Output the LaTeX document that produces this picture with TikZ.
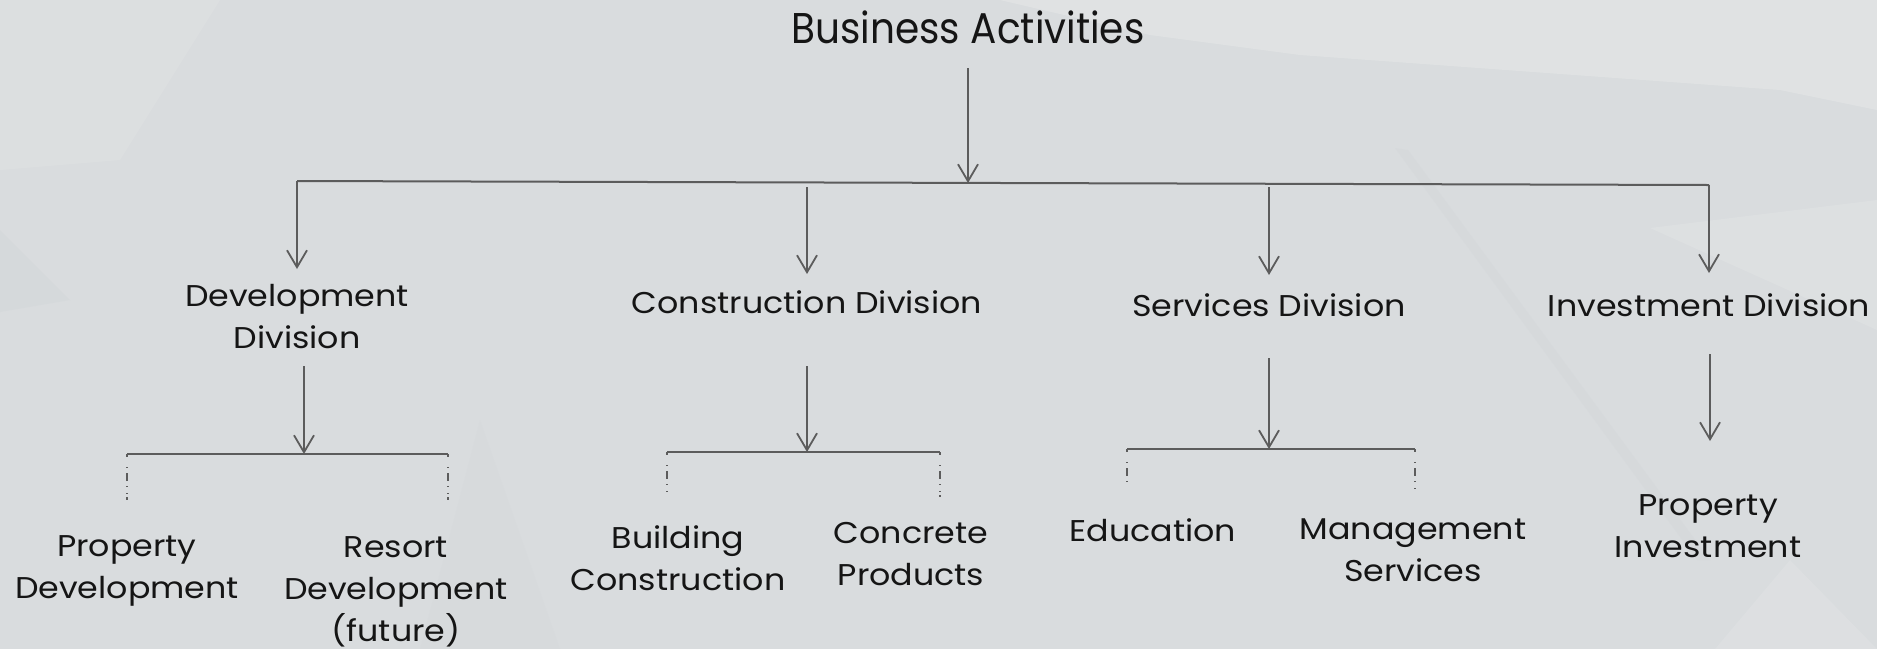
\documentclass[tikz,border=0pt]{standalone}
\usepackage{fontspec}
\setmainfont{Poppins}[FakeStretch=1.11]
\usetikzlibrary{arrows.meta}
\definecolor{bgbase}{HTML}{D9DCDE}
\definecolor{bglight}{HTML}{E3E5E6}
\definecolor{bgdark}{HTML}{D1D5D8}
\definecolor{linegray}{HTML}{5C5C5C}
\definecolor{textdark}{HTML}{151515}
\tikzset{
  lbl/.style={inner sep=0pt, align=center, text=textdark, font=\fontsize{15}{21}\selectfont},
  ttl/.style={inner sep=0pt, text=textdark, font=\fontsize{21.5}{26}\selectfont},
  conn/.style={draw=linegray, line width=1pt},
  arr/.style={conn, -{Straight Barb[length=8.5pt,width=10pt,line width=0.9pt]}},
  stub/.style={draw=linegray, line width=0.8pt, dash pattern=on 1.5pt off 5pt on 0.5pt off 2.5pt on 4pt off 2.5pt on 0.5pt off 3pt on 0.5pt}
}
\begin{document}
\begin{tikzpicture}[x=0.5pt,y=-0.5pt]
% background
\fill[bgbase] (0,0) rectangle (1877,649);
\useasboundingbox (0,0) rectangle (1877,649);
\fill[bglight,opacity=0.7] (1000,0) -- (1877,0) -- (1877,110) -- (1780,90) -- (1300,55) -- (1150,35) -- cycle;
\fill[bglight,opacity=0.45] (1650,228) -- (1877,200) -- (1877,330) -- cycle;
\fill[bgdark,opacity=0.35] (1395,148) -- (1408,150) -- (1710,560) -- (1697,560) -- cycle;
\fill[bglight,opacity=0.35] (0,0) -- (220,0) -- (120,160) -- (0,170) -- cycle;
\fill[bgdark,opacity=0.4] (0,230) -- (70,300) -- (0,312) -- cycle;
\fill[bglight,opacity=0.4] (1715,649) -- (1790,560) -- (1877,649) -- cycle;
\fill[bgdark,opacity=0.2] (480,420) -- (560,649) -- (420,649) -- cycle;

% title
\node[ttl] (T) at (968,27) {\resizebox{176.5pt}{\height}{Business Activities}};

% level 2
\node[lbl] (D) at (297,317) {Development\\Division};
\node[lbl] (C) at (807,302) {Construction Division};
\node[lbl] (S) at (1269,305) {Services Division};
\node[lbl] (I) at (1709,305) {Investment Division};

% level 3
\node[lbl] (PD) at (127,571) {Property\\Development};
\node[lbl] (RD) at (396,592) {Resort\\Development\\(future)};
\node[lbl] (BC) at (678,558) {Building\\Construction};
\node[lbl] (CP) at (911,554) {Concrete\\Products};
\node[lbl] (ED) at (1153,530) {Education};
\node[lbl] (MS) at (1413,550) {Management\\Services};
\node[lbl] (PI) at (1708,526) {Property\\Investment};

% coordinates for main bar
\coordinate (barL) at (297,181);
\coordinate (barM) at (968,183);
\coordinate (barR) at (1709,185);
\coordinate (tTop) at (968,68);

\draw[arr] (tTop) -- (barM);
\draw[conn] (barL) -- (barR);

% level 1 -> level 2
\coordinate (dTip) at (297,269);
\coordinate (cTop) at (807,187);
\coordinate (cTip) at (807,274);
\coordinate (sTop) at (1269,187);
\coordinate (sTip) at (1269,275);
\coordinate (iTip) at (1709,273);
\draw[arr] (barL) -- (dTip);
\draw[arr] (cTop) -- (cTip);
\draw[arr] (sTop) -- (sTip);
\draw[arr] (barR) -- (iTip);

% development bracket
\coordinate (dA) at (304,366);
\coordinate (dB) at (304,454);
\coordinate (dL) at (127,454);
\coordinate (dR) at (448,454);
\coordinate (dLe) at (127,500);
\coordinate (dRe) at (448,500);
\draw[arr] (dA) -- (dB);
\draw[conn] (dL) -- (dR);
\draw[stub] (dL) -- (dLe);
\draw[stub] (dR) -- (dRe);

% construction bracket
\coordinate (cA) at (807,366);
\coordinate (cB) at (807,452);
\coordinate (cL) at (667,452);
\coordinate (cR) at (940,452);
\coordinate (cLe) at (667,494);
\coordinate (cRe) at (940,497);
\draw[arr] (cA) -- (cB);
\draw[conn] (cL) -- (cR);
\draw[stub] (cL) -- (cLe);
\draw[stub] (cR) -- (cRe);

% services bracket
\coordinate (sA) at (1269,358);
\coordinate (sB) at (1269,449);
\coordinate (sL) at (1127,449);
\coordinate (sR) at (1415,449);
\coordinate (sLe) at (1127,487);
\coordinate (sRe) at (1415,489);
\draw[arr] (sA) -- (sB);
\draw[conn] (sL) -- (sR);
\draw[stub] (sL) -- (sLe);
\draw[stub] (sR) -- (sRe);

% investment
\coordinate (iA) at (1710,354);
\coordinate (iB) at (1710,441);
\draw[arr] (iA) -- (iB);
\end{tikzpicture}
\end{document}
